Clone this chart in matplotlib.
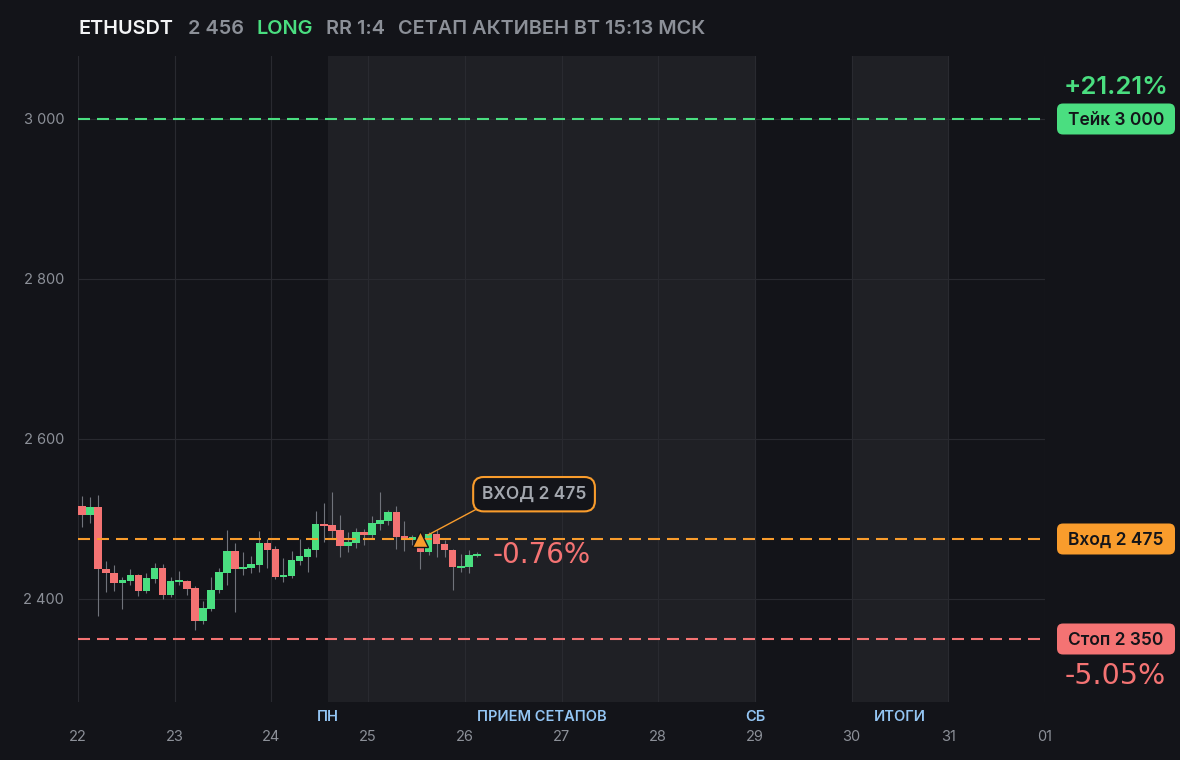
import numpy as np
import matplotlib
matplotlib.use("Agg")
import matplotlib.pyplot as plt
from matplotlib.patches import FancyBboxPatch
from matplotlib.transforms import IdentityTransform

plt.rcParams['font.family'] = ['Inter', 'DejaVu Sans']

# 2h candles, first one opens on the 22nd 00:00
opens  = [2516, 2505, 2515, 2438, 2432, 2420, 2423, 2430, 2410, 2425,
          2439, 2405, 2421, 2422, 2414, 2372, 2388, 2411, 2433, 2460,
          2437, 2439, 2442, 2470, 2462, 2428, 2429, 2448, 2453, 2461,
          2494, 2492, 2486, 2466, 2470, 2484, 2480, 2494, 2497, 2509,
          2479, 2474, 2464, 2459, 2481, 2469, 2461, 2439, 2440, 2454]
highs  = [2529, 2527, 2530, 2447, 2442, 2427, 2437, 2431, 2432, 2445,
          2444, 2427, 2435, 2424, 2416, 2398, 2427, 2439, 2486, 2470,
          2459, 2454, 2485, 2475, 2466, 2451, 2460, 2475, 2465, 2510,
          2520, 2534, 2505, 2484, 2489, 2488, 2504, 2534, 2511, 2516,
          2498, 2480, 2474, 2484, 2486, 2474, 2462, 2456, 2461, 2459]
lows   = [2490, 2495, 2379, 2409, 2410, 2387, 2418, 2404, 2408, 2420,
          2400, 2403, 2418, 2405, 2361, 2369, 2385, 2408, 2418, 2384,
          2430, 2433, 2434, 2439, 2425, 2421, 2426, 2442, 2434, 2452,
          2471, 2476, 2453, 2459, 2464, 2468, 2476, 2486, 2493, 2462,
          2460, 2467, 2437, 2455, 2452, 2452, 2411, 2434, 2432, 2453]
closes = [2505, 2515, 2438, 2432, 2420, 2424, 2430, 2410, 2426, 2439,
          2405, 2422, 2422, 2413, 2372, 2389, 2411, 2434, 2460, 2437,
          2440, 2444, 2470, 2461, 2428, 2430, 2449, 2454, 2462, 2494,
          2491, 2485, 2466, 2471, 2484, 2480, 2495, 2499, 2509, 2477,
          2474, 2477, 2459, 2481, 2469, 2461, 2440, 2441, 2455, 2456]

day_ticks = list(range(22, 33))
day_labels = ['22', '23', '24', '25', '26', '27', '28', '29', '30', '31', '01']
price_ticks = [2400, 2600, 2800, 3000]
price_labels = ['2 400', '2 600', '2 800', '3 000']

take_price, entry_price, stop_price = 3000, 2475, 2350
entry_candle = 42
take_pct, stop_pct, now_pct = '+21.21%', '-5.05%', '-0.76%'

shade_spans = [(24 + 14 / 24, 29), (30, 31)]
session_names = ['ПН', 'ПРИЕМ СЕТАПОВ', 'СБ', 'ИТОГИ']
session_x = [24 + 14 / 24, (24 + 14 / 24 + 29) / 2, 29, 30.5]

# colours
BG = '#131419'
SHADE = '#1f2025'
GRID = '#292a30'
WICK = '#70737b'
GREEN = '#4ade80'
RED = '#f47373'
ORANGE = '#f99c2c'
GREY = '#8c9098'
BLUE = '#93c5f3'

W, H = 1180, 760
fig = plt.figure(figsize=(W / 100, H / 100), dpi=100, facecolor=BG)
ax = fig.add_axes([78 / W, 58 / H, 967 / W, 646 / H])
ax.set_facecolor(BG)
ax.set_xlim(22, 32)
ax.set_ylim(2271.25, 3078.75)
for s in ax.spines.values():
    s.set_visible(False)

for a, b in shade_spans:
    ax.axvspan(a, b, color=SHADE, lw=0, zorder=0)

ax.set_axisbelow(True)
ax.set_xticks(day_ticks)
ax.set_xticklabels([])
ax.set_yticks(price_ticks)
ax.set_yticklabels(price_labels)
ax.tick_params(length=0)
ax.tick_params(axis='y', colors=GREY, labelsize=10.5, pad=10)
ax.grid(color=GRID, lw=0.8)

# day labels + session labels under the axis
xt = ax.get_xaxis_transform()
for d, lab in zip(day_ticks, day_labels):
    ax.text(d, -35 / 646, lab, transform=xt, ha='center', va='center',
            color=GREY, fontsize=10.5, clip_on=False)
for sx, name in zip(session_x, session_names):
    ax.text(sx, -15 / 646, name, transform=xt, ha='center', va='center',
            color=BLUE, fontsize=10.5, fontweight='semibold', clip_on=False)

# candles
o = np.array(opens)
c = np.array(closes)
x = 22 + (np.arange(len(o)) + 0.5) / 12
cols = [GREEN if cc >= oo else RED for oo, cc in zip(o, c)]
ax.vlines(x, lows, highs, color=WICK, lw=0.8, zorder=2)
ax.bar(x, np.maximum(np.abs(c - o), 2.5), bottom=np.minimum(o, c), width=0.078,
       color=cols, lw=0, zorder=3)

# level lines
px = 100 / 72
lw = 1.5
dash = (0, (12 / px / lw, 7 / px / lw))
for p, col in [(take_price, GREEN), (entry_price, ORANGE), (stop_price, RED)]:
    ax.axhline(p, color=col, lw=lw, ls=dash, zorder=4)

# entry marker and callout
ex = x[entry_candle]
ax.plot(ex, entry_price, marker='^', ms=11, color=ORANGE, mec=BG, mew=1, zorder=6)
ax.annotate('ВХОД 2 475', xy=(ex, entry_price), xytext=(26.716, 2531),
            ha='center', va='center', color='#a3a7ae', fontsize=12.5,
            fontweight='semibold', zorder=7,
            bbox=dict(boxstyle='round,pad=0.5,rounding_size=0.6', fc=BG, ec=ORANGE, lw=1.5),
            arrowprops=dict(arrowstyle='-', color=ORANGE, lw=1, relpos=(0.08, 0.05),
                            shrinkA=0, shrinkB=6))
ax.text(26.29, 2454.5, now_pct, ha='left', va='center', color=RED,
        fontsize=20, family='DejaVu Sans', zorder=7)

# right side price tags
fig.canvas.draw()
idt = IdentityTransform()
tags = [(take_price, 'Тейк 3 000', GREEN), (entry_price, 'Вход 2 475', ORANGE),
        (stop_price, 'Стоп 2 350', RED)]
ypos = {}
for p, lab, col in tags:
    yd = ax.transData.transform((22, p))[1]
    ypos[p] = yd
    box = FancyBboxPatch((1057, yd - 15.5), 118, 31, boxstyle='round,pad=0,rounding_size=6',
                         fc=col, ec='none', transform=idt)
    fig.add_artist(box)
    fig.text(1116, yd - 6.3, lab, transform=idt, ha='center', va='baseline',
             color=BG, fontsize=12.5, fontweight='semibold')

fig.text(1116, ypos[take_price] + 31, take_pct, transform=idt, ha='center', va='center',
         color=GREEN, fontsize=18.5, fontweight='semibold')
fig.text(1115, ypos[stop_price] - 37, stop_pct, transform=idt, ha='center', va='center',
         color=RED, fontsize=20.5, family='DejaVu Sans')

# header
hy = H - 29
head = [(78, 'ETHUSDT', '#f3f4f6'), (188, '2 456', GREY), (257, 'LONG', GREEN),
        (326, 'RR 1:4', GREY), (398, 'СЕТАП АКТИВЕН ВТ 15:13 МСК', GREY)]
for hx, txt, col in head:
    fig.text(hx, hy, txt, transform=idt, ha='left', va='center', color=col,
             fontsize=14.3, fontweight='semibold')

fig.savefig('out.png', dpi=100, facecolor=BG)
